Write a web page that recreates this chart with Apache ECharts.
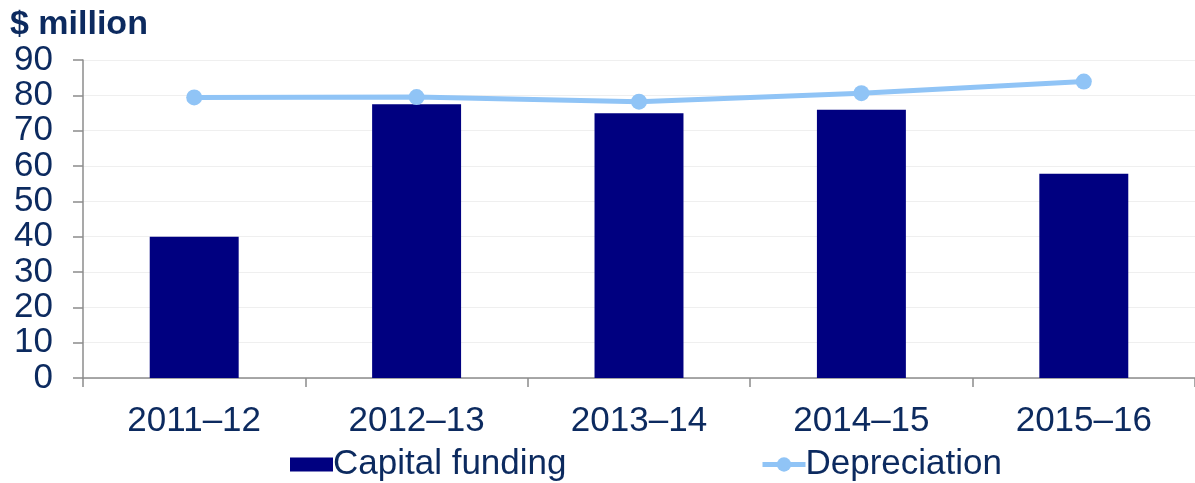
<!DOCTYPE html>
<html>
<head>
<meta charset="utf-8">
<script src="https://cdn.jsdelivr.net/npm/echarts@6/dist/echarts.min.js"></script>
<style>
html,body{margin:0;padding:0;background:#fff;}
#chart{width:1195px;height:483px;}
</style>
</head>
<body>
<div id="chart"></div>
<script>
const categories = ['2011\u201312', '2012\u201313', '2013\u201314', '2014\u201315', '2015\u201316'];
const capitalFunding = [40.0, 77.5, 74.9, 75.9, 57.8];
const depreciation = [79.4, 79.5, 78.2, 80.6, 83.9];
const yTitle = '$ million';

const textColor = '#0c2a5f';
const font = '"Liberation Sans", Arial, sans-serif';

const chart = echarts.init(document.getElementById('chart'), null, {renderer: 'canvas'});
chart.setOption({
  animation: false,
  backgroundColor: '#ffffff',
  title: {
    text: yTitle,
    left: 5,
    top: 3,
    textStyle: {fontFamily: font, fontSize: 34, fontWeight: 'bold', color: textColor}
  },
  grid: {left: 83, right: -5, top: 60, bottom: 105, containLabel: false},
  legend: [
    {
      data: [{name: 'Capital funding', icon: 'rect'}],
      left: 290, top: 447, padding: 0,
      itemWidth: 43, itemHeight: 14, itemGap: 0,
      textStyle: {fontFamily: font, fontSize: 35, color: textColor, padding: [0,0,0,-5]}
    },
    {
      data: ['Depreciation'],
      left: 760, top: 447, padding: 0,
      itemWidth: 43, itemHeight: 18, itemGap: 0,
      lineStyle: {width: 5},
      textStyle: {fontFamily: font, fontSize: 35, color: textColor, padding: [0,0,0,-5]}
    }
  ],
  xAxis: {
    type: 'category',
    data: categories,
    boundaryGap: true,
    axisLine: {show: true, lineStyle: {color: '#8c8c8c', width: 1.5}},
    axisTick: {show: true, length: 9, inside: false, alignWithLabel: false, lineStyle: {color: '#8c8c8c', width: 1.5}},
    axisLabel: {fontFamily: font, fontSize: 35, color: textColor, margin: 26},
    splitLine: {show: false}
  },
  yAxis: {
    type: 'value',
    min: 0, max: 90, interval: 10,
    axisLine: {show: true, lineStyle: {color: '#8c8c8c', width: 1.5}},
    axisTick: {show: true, length: 10, inside: false, lineStyle: {color: '#8c8c8c', width: 1.5}},
    axisLabel: {fontFamily: font, fontSize: 35, color: textColor, margin: 30},
    splitLine: {show: true, lineStyle: {color: '#efefef', width: 1}}
  },
  series: [
    {
      name: 'Capital funding',
      type: 'bar',
      data: capitalFunding,
      barWidth: '40%',
      itemStyle: {color: '#000080'}
    },
    {
      name: 'Depreciation',
      type: 'line',
      data: depreciation,
      symbol: 'circle',
      symbolSize: 16,
      lineStyle: {color: '#90c4f6', width: 5},
      itemStyle: {color: '#90c4f6'},
      z: 5
    }
  ]
});
</script>
</body>
</html>
